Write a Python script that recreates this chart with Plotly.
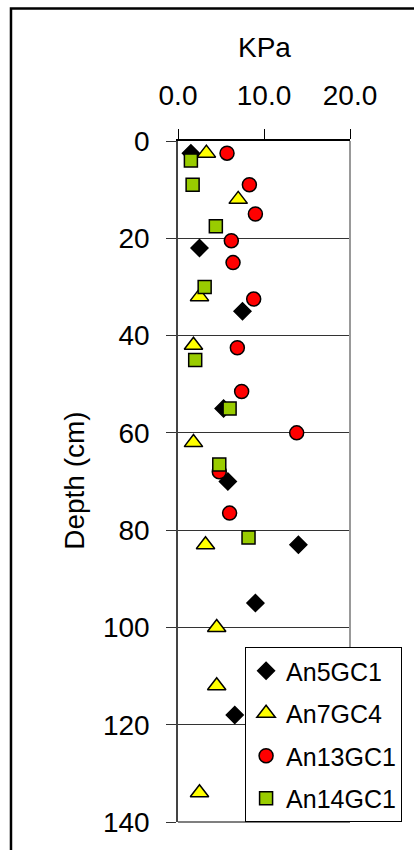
import plotly.graph_objects as go

# Shear strength (KPa) against sediment depth (cm) for four gravity cores
an5_kpa = [1.5, 2.5, 7.5, 5.3, 5.8, 14.0, 9.0, 9.2, 6.6]
an5_depth = [2.5, 22, 35, 55, 70, 83, 95, 106, 118]

an7_kpa = [3.3, 7.0, 2.5, 1.8, 1.8, 3.2, 4.5, 4.5, 2.5]
an7_depth = [2.5, 12, 32, 42, 62, 83, 100, 112, 134]

an13_kpa = [5.7, 8.3, 9.0, 6.2, 6.4, 8.8, 6.9, 7.4, 13.8, 4.8, 6.0]
an13_depth = [2.5, 9, 15, 20.5, 25, 32.5, 42.5, 51.5, 60, 68, 76.5]

an14_kpa = [1.5, 1.7, 4.4, 3.1, 2.0, 6.0, 4.8, 8.2]
an14_depth = [4, 9, 17.5, 30, 45, 55, 66.5, 81.5]

x_ticks = [0, 10, 20]
y_ticks = [0, 20, 40, 60, 80, 100, 120, 140]

FONT = "Liberation Sans, Arial, sans-serif"

fig = go.Figure()

series = [
    ("An5GC1", an5_kpa, an5_depth, "diamond", "black", 13),
    ("An7GC4", an7_kpa, an7_depth, "triangle-up", "#FFFF00", 16),
    ("An13GC1", an13_kpa, an13_depth, "circle", "#FF0000", 14),
    ("An14GC1", an14_kpa, an14_depth, "square", "#99CC00", 13),
]
for name, xs, ys, sym, col, sz in series:
    fig.add_trace(go.Scatter(
        x=xs, y=ys, mode="markers", name=name, legendgroup=name,
        marker=dict(symbol=sym, color=col, size=sz,
                    line=dict(color="black", width=1.5)),
        cliponaxis=False,
    ))

fig.update_layout(
    width=414, height=850,
    margin=dict(l=178, r=64, t=141, b=28),
    paper_bgcolor="white", plot_bgcolor="white",
    font=dict(family=FONT, size=28, color="black"),
    showlegend=True,
    legend=dict(
        x=0.39, y=0, xanchor="left", yanchor="bottom",
        bgcolor="white", bordercolor="black", borderwidth=1,
        font=dict(family=FONT, size=25, color="black"),
        tracegroupgap=7,
    ),
    xaxis=dict(
        side="top", range=[0, 20], tickvals=x_ticks, tickformat=".1f",
        ticks="outside", ticklen=10, tickcolor="black", tickwidth=1,
        ticklabelstandoff=13,
        showline=True, linecolor="black", linewidth=1.5,
        showgrid=False, zeroline=False,
        tickfont=dict(family=FONT, size=28, color="black"),
    ),
    yaxis=dict(
        range=[140, 0], tickvals=y_ticks,
        ticks="outside", ticklen=10, tickcolor="#333", tickwidth=1,
        ticklabelstandoff=11,
        showline=True, linecolor="#444", linewidth=1.5,
        showgrid=True, gridcolor="#333", gridwidth=1, zeroline=False,
        tickfont=dict(family=FONT, size=28, color="black"),
    ),
    annotations=[
        dict(text="KPa", x=0.5, y=1.138, xref="paper", yref="paper",
             xanchor="center", yanchor="middle", showarrow=False,
             font=dict(family=FONT, size=28, color="black")),
        dict(text="Depth (cm)", x=-0.599, y=0.501, xref="paper", yref="paper",
             xanchor="center", yanchor="middle", textangle=-90, showarrow=False,
             font=dict(family=FONT, size=28, color="black")),
    ],
    shapes=[
        # right and bottom edges of the plotting area
        dict(type="line", xref="paper", yref="paper", x0=1, x1=1, y0=0, y1=1,
             line=dict(color="#999", width=2)),
        dict(type="line", xref="paper", yref="paper", x0=0, x1=1, y0=0, y1=0,
             line=dict(color="#555", width=1.5)),
        # outer frame around the figure
        dict(type="rect", xref="paper", yref="paper",
             x0=-0.971, x1=2, y0=-1, y1=1.1944,
             line=dict(color="black", width=2.5), fillcolor="rgba(0,0,0,0)"),
    ],
)

fig.write_html("out.html")
